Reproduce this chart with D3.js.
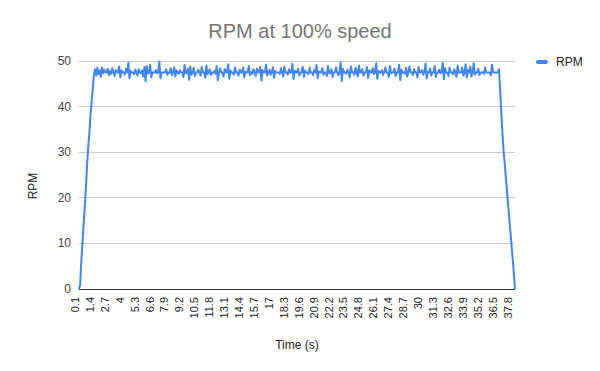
<!DOCTYPE html>
<html>
<head>
<meta charset="utf-8">
<script src="https://cdn.jsdelivr.net/npm/d3@7"></script>
<style>
  body { margin: 0; background: #fff; }
  text { font-family: Arial, "Liberation Sans", sans-serif; }
</style>
</head>
<body>
<svg id="chart" width="600" height="371"></svg>
<script>
// sample times start at 0.1 s, one sample every 0.1 s
var startTime = 0.1, stepTime = 0.1;

// RPM readings, one per sample (ramp up, steady state, ramp down)
var rpm = [
  0, 1, 6, 10, 14, 18, 22, 27, 31, 34, 38, 41, 44, 47,
  48.2, 46.8, 48.5, 47.1, 47.9, 46.5, 48.6, 47.3, 48.1, 47.5, 47.5, 48.3, 46.9, 47.8, 47.2, 48.4, 47.5, 46.7, 48.0, 47.5,
  47.5, 48.8, 46.4, 47.9, 47.5, 47.5, 47.0, 48.3, 47.5, 49.6, 46.2, 47.8, 47.5, 47.5, 47.1, 48.1, 47.5, 46.8, 48.2, 47.5,
  47.3, 47.9, 46.6, 48.7, 45.6, 48.9, 47.2, 47.5, 49.2, 46.4, 47.5, 47.5, 47.5, 48.0, 47.3, 47.5, 49.9, 46.2, 47.5, 47.5,
  47.5, 47.5, 48.2, 47.0, 47.5, 47.5, 48.4, 46.9, 47.5, 48.6, 46.6, 47.9, 47.5, 47.2, 48.0, 47.5, 47.5, 46.5, 49.1, 47.3,
  47.5, 48.3, 45.9, 48.8, 47.0, 47.5, 48.5, 46.7, 47.5, 47.5, 48.1, 47.4, 46.8, 48.7, 47.5, 47.5, 46.3, 49.0, 47.1, 47.5,
  48.2, 46.9, 47.5, 47.5, 47.8, 47.2, 48.9, 45.8, 47.5, 48.4, 47.5, 47.5, 46.6, 48.3, 47.5, 47.5, 49.3, 46.1, 47.9, 47.5,
  47.5, 47.0, 48.6, 47.5, 47.5, 46.8, 48.1, 47.5, 47.5, 48.5, 46.4, 47.6, 47.5, 47.5, 48.9, 46.9, 47.5, 47.2, 48.2, 47.5,
  46.7, 48.3, 47.5, 47.5, 48.7, 45.7, 48.0, 47.5, 47.5, 49.2, 46.8, 47.5, 48.1, 47.0, 47.5, 48.6, 46.3, 47.8, 47.5, 47.5,
  47.5, 47.2, 48.4, 47.5, 46.6, 48.8, 47.5, 47.5, 47.0, 48.2, 47.5, 47.5, 49.4, 46.0, 47.9, 47.5, 47.5, 48.3, 46.8, 47.5,
  47.5, 48.7, 46.5, 47.9, 47.5, 47.5, 47.1, 48.5, 47.5, 47.5, 46.9, 48.0, 47.5, 49.1, 46.2, 47.7, 47.5, 47.5, 48.4, 47.0,
  47.5, 47.5, 46.7, 48.9, 47.3, 47.5, 48.2, 46.5, 47.5, 47.5, 48.6, 47.5, 46.9, 47.5, 49.7, 45.6, 48.3, 47.5, 47.5, 47.2,
  48.1, 47.5, 46.4, 48.8, 47.5, 47.5, 47.0, 48.5, 47.5, 46.6, 49.0, 47.5, 47.5, 48.2, 46.8, 47.5, 47.5, 48.7, 46.3, 47.9,
  47.5, 47.5, 48.4, 47.1, 47.5, 49.5, 46.1, 47.8, 47.5, 47.5, 48.0, 46.9, 47.5, 48.6, 47.5, 47.5, 46.5, 48.9, 47.3, 47.5,
  47.5, 48.3, 46.7, 47.5, 47.5, 49.2, 45.8, 48.1, 47.5, 47.5, 47.2, 48.5, 46.6, 47.5, 48.8, 47.5, 47.5, 46.9, 48.2, 47.5,
  47.5, 46.4, 48.7, 47.5, 47.5, 48.0, 47.0, 47.5, 49.4, 46.2, 47.6, 47.5, 48.3, 46.8, 47.5, 47.5, 48.9, 46.5, 47.5, 47.5,
  48.1, 47.3, 47.5, 49.6, 46.0, 48.4, 47.5, 47.5, 46.7, 48.6, 47.5, 47.5, 47.1, 48.2, 47.5, 46.5, 49.0, 47.5, 47.5, 47.5,
  48.5, 46.8, 47.5, 49.3, 46.4, 48.0, 47.5, 48.8, 46.6, 47.5, 49.5, 47.0, 47.5, 47.5, 48.3, 46.9, 47.5, 47.5, 47.5, 47.2,
  48.6, 47.5, 47.5, 47.5, 47.5, 46.9, 49.2, 47.5, 47.5, 47.5, 47.5, 47.5,
  48.2, 44, 39, 34.5, 30.5, 27.5, 24.5, 21.5, 18.5, 15.5, 12.5, 9.5, 6.5, 3.5, 0
];

// x labels shown every 13 samples
var tickLabels = ["0.1","1.4","2.7","4","5.3","6.6","7.9","9.2","10.5","11.8","13.1","14.4","15.7","17",
  "18.3","19.6","20.9","22.2","23.5","24.8","26.1","27.4","28.7","30","31.3","32.6","33.9","35.2","36.5","37.8"];
var yTicks = [0, 10, 20, 30, 40, 50];

var data = rpm.map(function (v, i) {
  return { t: (startTime + i * stepTime).toFixed(1), v: v };
});

var svg = d3.select("#chart");
var plotLeft = 79, plotRight = 515, plotTop = 61, plotBottom = 289;

var x = d3.scalePoint()
  .domain(data.map(function (d) { return d.t; }))
  .range([plotLeft, plotRight]);
var y = d3.scaleLinear().domain([0, 50]).range([plotBottom, plotTop]);

// gridlines
svg.append("g").selectAll("line")
  .data(yTicks.filter(function (d) { return d > 0; }))
  .enter().append("line")
  .attr("x1", plotLeft).attr("x2", plotRight)
  .attr("y1", function (d) { return y(d); })
  .attr("y2", function (d) { return y(d); })
  .attr("stroke", "#cccccc").attr("stroke-width", 1)
  .attr("shape-rendering", "crispEdges");

// y tick labels
svg.append("g").selectAll("text")
  .data(yTicks)
  .enter().append("text")
  .attr("x", 71)
  .attr("y", function (d) { return y(d) + 4; })
  .attr("text-anchor", "end")
  .attr("font-size", 12)
  .attr("fill", "#444")
  .text(function (d) { return d; });

// line
var line = d3.line()
  .x(function (d) { return x(d.t); })
  .y(function (d) { return y(d.v); });

svg.append("path")
  .datum(data)
  .attr("d", line)
  .attr("fill", "none")
  .attr("stroke", "#4285f4")
  .attr("stroke-width", 2)
  .attr("stroke-linejoin", "round");

// baseline
svg.append("line")
  .attr("x1", plotLeft).attr("x2", plotRight)
  .attr("y1", plotBottom).attr("y2", plotBottom)
  .attr("stroke", "#333").attr("stroke-width", 1)
  .attr("shape-rendering", "crispEdges");

// x tick labels (rotated)
svg.append("g").selectAll("text")
  .data(tickLabels)
  .enter().append("text")
  .attr("transform", function (d) {
    var px = x((+d).toFixed(1));
    return "translate(" + px + ",297) rotate(-90)";
  })
  .attr("text-anchor", "end")
  .attr("font-size", 11)
  .attr("fill", "#222")
  .text(function (d) { return d; });

// title
svg.append("text")
  .attr("x", 300).attr("y", 38)
  .attr("text-anchor", "middle")
  .attr("font-size", 20)
  .attr("fill", "#757575")
  .text("RPM at 100% speed");

// axis titles
svg.append("text")
  .attr("transform", "translate(37,186) rotate(-90)")
  .attr("text-anchor", "middle")
  .attr("font-size", 12)
  .attr("fill", "#222")
  .text("RPM");

svg.append("text")
  .attr("x", 297).attr("y", 349)
  .attr("text-anchor", "middle")
  .attr("font-size", 12)
  .attr("fill", "#222")
  .text("Time (s)");

// legend
svg.append("rect")
  .attr("x", 536).attr("y", 60)
  .attr("width", 12).attr("height", 4)
  .attr("rx", 2)
  .attr("fill", "#4285f4");
svg.append("text")
  .attr("x", 556).attr("y", 66)
  .attr("font-size", 12)
  .attr("fill", "#222")
  .text("RPM");
</script>
</body>
</html>
